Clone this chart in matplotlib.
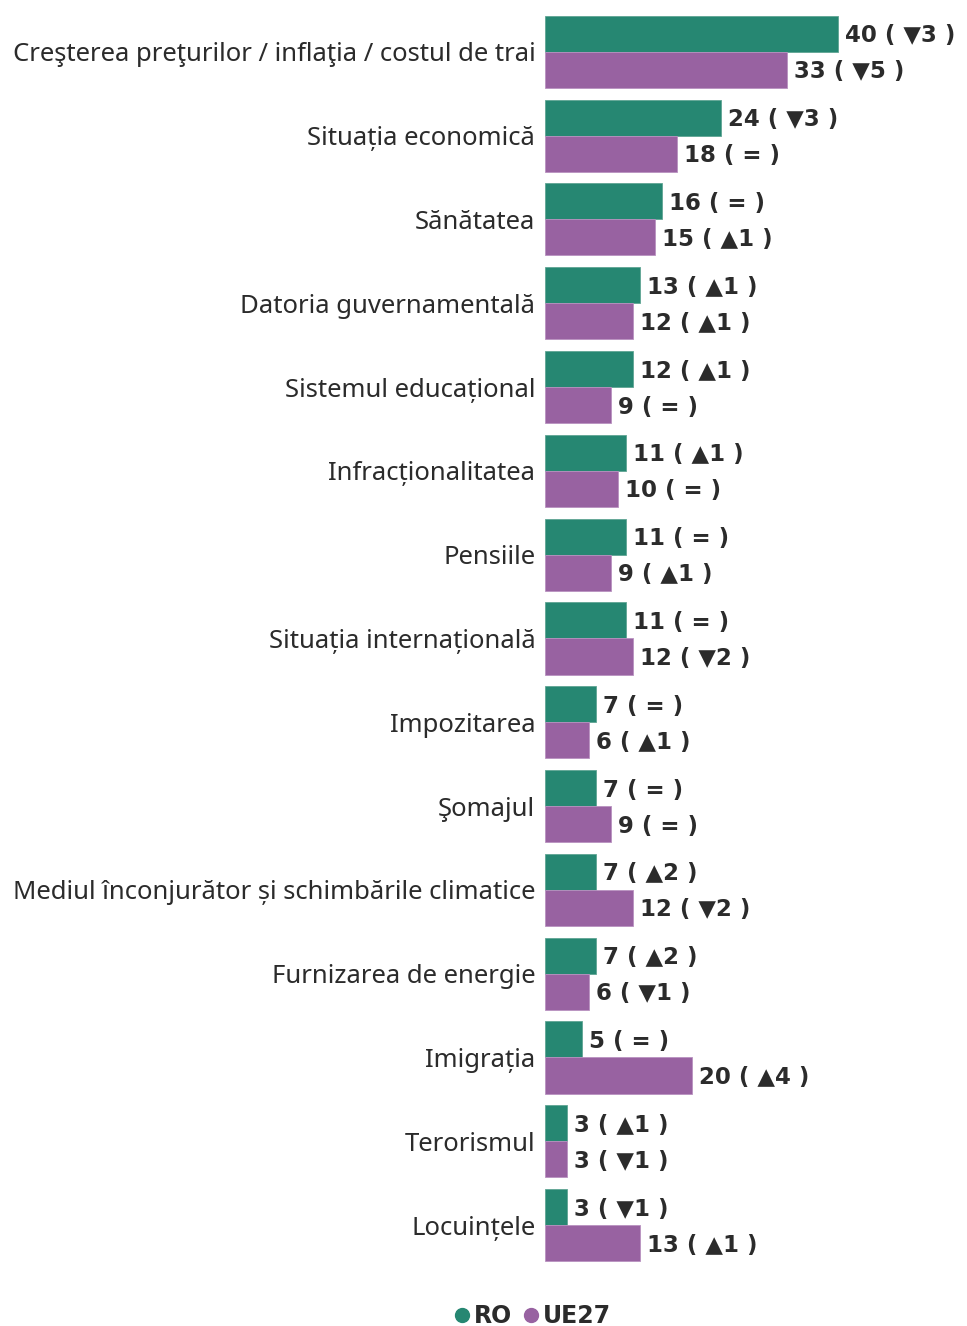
import numpy as np
import matplotlib
matplotlib.use("Agg")
import matplotlib.pyplot as plt
from matplotlib.lines import Line2D

plt.rcParams['font.family'] = ['Noto Sans', 'DejaVu Sans']

categories = [
    "Creşterea preţurilor / inflaţia / costul de trai",
    "Situația economică",
    "Sănătatea",
    "Datoria guvernamentală",
    "Sistemul educațional",
    "Infracționalitatea",
    "Pensiile",
    "Situația internațională",
    "Impozitarea",
    "Şomajul",
    "Mediul înconjurător și schimbările climatice",
    "Furnizarea de energie",
    "Imigrația",
    "Terorismul",
    "Locuințele",
]
ro = [40, 24, 16, 13, 12, 11, 11, 11, 7, 7, 7, 7, 5, 3, 3]
ro_change = ["▼3", "▼3", "=", "▲1", "▲1", "▲1", "=", "=", "=", "=", "▲2", "▲2", "=", "▲1", "▼1"]
ue27 = [33, 18, 15, 12, 9, 10, 9, 12, 6, 9, 12, 6, 20, 3, 13]
ue27_change = ["▼5", "=", "▲1", "▲1", "=", "=", "▲1", "▼2", "▲1", "=", "▼2", "▼1", "▲4", "▼1", "▲1"]

green = "#268772"
purple = "#9862a1"
txt = "#2b2b2b"
bold_fam = ['DejaVu Sans']

fig = plt.figure(figsize=(9.67, 13.26), dpi=100)
ax = fig.add_axes([0.5636, 0.0445, 0.4322, 0.948])

y = np.arange(len(categories))
h = 0.43
ax.barh(y - h / 2, ro, height=h, color=green, edgecolor="#5fa593", linewidth=0.6)
ax.barh(y + h / 2, ue27, height=h, color=purple, edgecolor="#b891c0", linewidth=0.6)

for i in range(len(categories)):
    ax.annotate(f"{ro[i]} ( {ro_change[i]} )", (ro[i], y[i] - h / 2),
                xytext=(5, -1.5), textcoords="offset points", va="center", ha="left",
                fontsize=16.5, fontweight="bold", family=bold_fam, color=txt)
    ax.annotate(f"{ue27[i]} ( {ue27_change[i]} )", (ue27[i], y[i] + h / 2),
                xytext=(5, -1.5), textcoords="offset points", va="center", ha="left",
                fontsize=16.5, fontweight="bold", family=bold_fam, color=txt)

ax.set_xlim(0, 57)
ax.set_ylim(len(categories) - 0.5, -0.5)
ax.set_yticks(y)
ax.set_yticklabels(categories, fontsize=18.5, color=txt)
ax.tick_params(axis="y", length=0, pad=7)
ax.set_xticks([])
for s in ax.spines.values():
    s.set_visible(False)

handles = [Line2D([], [], marker="o", linestyle="", color=green, markersize=10),
           Line2D([], [], marker="o", linestyle="", color=purple, markersize=10)]
leg = fig.legend(handles, ["RO", "UE27"], loc="center", bbox_to_anchor=(0.55, 0.0075),
                 ncol=2, frameon=False, handlelength=0.8, handletextpad=0.1,
                 columnspacing=0.4, prop={"size": 17, "weight": "bold", "family": bold_fam})
for t in leg.get_texts():
    t.set_color(txt)

fig.savefig("out.png", dpi=100)
